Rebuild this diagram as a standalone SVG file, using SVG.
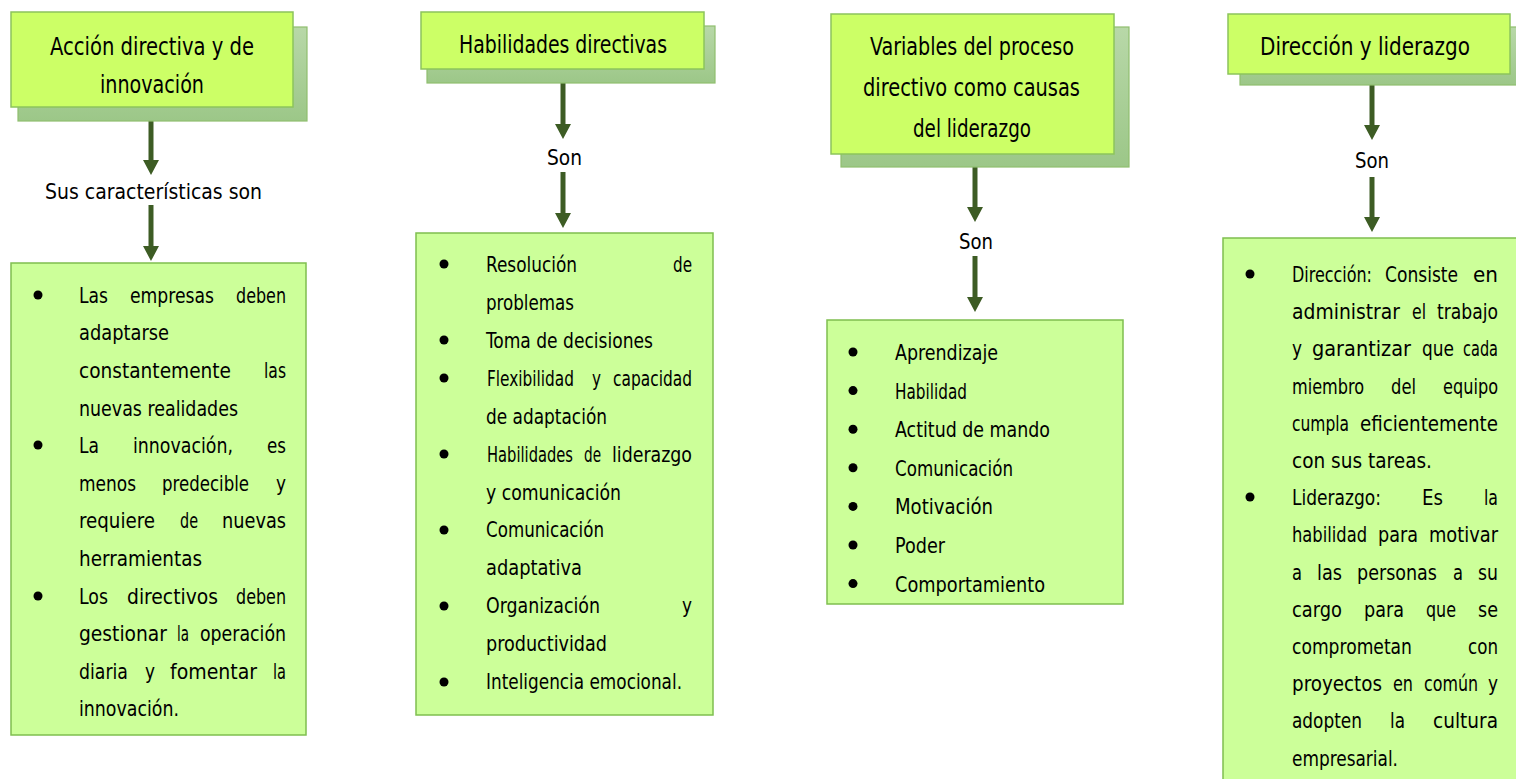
<svg xmlns="http://www.w3.org/2000/svg" width="1516" height="779" viewBox="0 0 1516 779">
<style>
text{font-family:"DejaVu Sans Condensed","Liberation Sans Narrow","Liberation Sans",sans-serif;font-stretch:condensed;fill:#000}
.h{font-size:25px}
.b{font-size:21px}
.l{font-size:22px}
.t{word-spacing:-5px}
.front{fill:#ccff66;stroke:#8cc45c;stroke-width:1.5}
.shadow{fill:url(#sg);stroke:#8fbf6e;stroke-width:1.2}
.body{fill:#ccff99;stroke:#7fbf4f;stroke-width:1.5}
.arr{stroke:#3d5c24;stroke-width:5;fill:none;marker-end:url(#ah)}
.dot{fill:#000}
</style>
<defs>
<linearGradient id="sg" x1="0" y1="0" x2="0" y2="1">
<stop offset="0" stop-color="#b8d8a8"/>
<stop offset="1" stop-color="#9cc788"/>
</linearGradient>
<marker id="ah" viewBox="0 0 15 16" refX="0" refY="8" markerWidth="15" markerHeight="16" orient="auto" markerUnits="userSpaceOnUse">
<path d="M0,0 L15,8 L0,16 Z" fill="#3d5c24"/>
</marker>
</defs>

<g id="connectors">
<path class="arr" d="M151,121 V160"/>
<path class="arr" d="M151,205 V246"/>
<path class="arr" d="M563,83 V124"/>
<path class="arr" d="M563,172 V213"/>
<path class="arr" d="M975,167 V207"/>
<path class="arr" d="M975,256 V297"/>
<path class="arr" d="M1372,85 V125"/>
<path class="arr" d="M1372,177 V217"/>
<text class="l" y="199"><tspan x="45" textLength="217" lengthAdjust="spacingAndGlyphs">Sus características son</tspan></text>
<text class="l" y="165"><tspan x="547" textLength="35" lengthAdjust="spacingAndGlyphs">Son</tspan></text>
<text class="l" y="249"><tspan x="959" textLength="34" lengthAdjust="spacingAndGlyphs">Son</tspan></text>
<text class="l" y="168"><tspan x="1355" textLength="34" lengthAdjust="spacingAndGlyphs">Son</tspan></text>
</g>

<g id="head1">
<rect class="shadow" x="18" y="27" width="289" height="94"/>
<rect class="front" x="11" y="12" width="282" height="95"/>
<text class="h" y="55"><tspan x="50" textLength="204" lengthAdjust="spacingAndGlyphs">Acción directiva y de</tspan></text>
<text class="h" y="93"><tspan x="100" textLength="104" lengthAdjust="spacingAndGlyphs">innovación</tspan></text>
</g>

<g id="body1">
<rect class="body" x="11" y="263" width="295" height="472"/>
<circle class="dot" cx="38" cy="295" r="4.5"/>
<circle class="dot" cx="38" cy="445" r="4.5"/>
<circle class="dot" cx="38" cy="596" r="4.5"/>
<text class="b t" y="302.7"><tspan x="79" textLength="29" lengthAdjust="spacingAndGlyphs">Las</tspan> <tspan x="130" textLength="84" lengthAdjust="spacingAndGlyphs">empresas</tspan> <tspan x="236" textLength="50" lengthAdjust="spacingAndGlyphs">deben</tspan></text>
<text class="b" y="340.3"><tspan x="79" textLength="90" lengthAdjust="spacingAndGlyphs">adaptarse</tspan></text>
<text class="b t" y="377.9"><tspan x="79" textLength="152" lengthAdjust="spacingAndGlyphs">constantemente</tspan> <tspan x="264" textLength="22" lengthAdjust="spacingAndGlyphs">las</tspan></text>
<text class="b" y="415.5"><tspan x="79" textLength="159" lengthAdjust="spacingAndGlyphs">nuevas realidades</tspan></text>
<text class="b t" y="453.1"><tspan x="79" textLength="20" lengthAdjust="spacingAndGlyphs">La</tspan> <tspan x="133" textLength="100" lengthAdjust="spacingAndGlyphs">innovación,</tspan> <tspan x="267" textLength="19" lengthAdjust="spacingAndGlyphs">es</tspan></text>
<text class="b t" y="490.7"><tspan x="79" textLength="57" lengthAdjust="spacingAndGlyphs">menos</tspan> <tspan x="162" textLength="87" lengthAdjust="spacingAndGlyphs">predecible</tspan> <tspan x="276" textLength="10" lengthAdjust="spacingAndGlyphs">y</tspan></text>
<text class="b t" y="528.3"><tspan x="79" textLength="76" lengthAdjust="spacingAndGlyphs">requiere</tspan> <tspan x="180" textLength="18" lengthAdjust="spacingAndGlyphs">de</tspan> <tspan x="222" textLength="64" lengthAdjust="spacingAndGlyphs">nuevas</tspan></text>
<text class="b" y="565.9"><tspan x="79" textLength="123" lengthAdjust="spacingAndGlyphs">herramientas</tspan></text>
<text class="b t" y="603.5"><tspan x="79" textLength="29" lengthAdjust="spacingAndGlyphs">Los</tspan> <tspan x="127" textLength="91" lengthAdjust="spacingAndGlyphs">directivos</tspan> <tspan x="236" textLength="50" lengthAdjust="spacingAndGlyphs">deben</tspan></text>
<text class="b t" y="641.1"><tspan x="79" textLength="88" lengthAdjust="spacingAndGlyphs">gestionar</tspan> <tspan x="177" textLength="12" lengthAdjust="spacingAndGlyphs">la</tspan> <tspan x="200" textLength="86" lengthAdjust="spacingAndGlyphs">operación</tspan></text>
<text class="b t" y="678.7"><tspan x="79" textLength="49" lengthAdjust="spacingAndGlyphs">diaria</tspan> <tspan x="145" textLength="10" lengthAdjust="spacingAndGlyphs">y</tspan> <tspan x="170" textLength="87" lengthAdjust="spacingAndGlyphs">fomentar</tspan> <tspan x="273" textLength="13" lengthAdjust="spacingAndGlyphs">la</tspan></text>
<text class="b" y="716.3"><tspan x="79" textLength="100" lengthAdjust="spacingAndGlyphs">innovación.</tspan></text>
</g>

<g id="head2">
<rect class="shadow" x="427" y="26" width="288" height="57"/>
<rect class="front" x="421" y="12" width="283" height="57"/>
<text class="h" y="53"><tspan x="459" textLength="208" lengthAdjust="spacingAndGlyphs">Habilidades directivas</tspan></text>
</g>

<g id="body2">
<rect class="body" x="416" y="233" width="297" height="482"/>
<circle class="dot" cx="444" cy="264" r="4.5"/>
<circle class="dot" cx="444" cy="340" r="4.5"/>
<circle class="dot" cx="444" cy="378" r="4.5"/>
<circle class="dot" cx="444" cy="454" r="4.5"/>
<circle class="dot" cx="444" cy="530" r="4.5"/>
<circle class="dot" cx="444" cy="606" r="4.5"/>
<circle class="dot" cx="444" cy="682" r="4.5"/>
<text class="b t" y="271.7"><tspan x="486" textLength="91" lengthAdjust="spacingAndGlyphs">Resolución</tspan> <tspan x="673" textLength="19" lengthAdjust="spacingAndGlyphs">de</tspan></text>
<text class="b" y="309.7"><tspan x="486" textLength="88" lengthAdjust="spacingAndGlyphs">problemas</tspan></text>
<text class="b" y="347.6"><tspan x="486" textLength="167" lengthAdjust="spacingAndGlyphs">Toma de decisiones</tspan></text>
<text class="b t" y="385.6"><tspan x="487" textLength="87" lengthAdjust="spacingAndGlyphs">Flexibilidad</tspan> <tspan x="592" textLength="9" lengthAdjust="spacingAndGlyphs">y</tspan> <tspan x="613" textLength="79" lengthAdjust="spacingAndGlyphs">capacidad</tspan></text>
<text class="b" y="423.5"><tspan x="486" textLength="121" lengthAdjust="spacingAndGlyphs">de adaptación</tspan></text>
<text class="b t" y="461.5"><tspan x="487" textLength="86" lengthAdjust="spacingAndGlyphs">Habilidades</tspan> <tspan x="584" textLength="17" lengthAdjust="spacingAndGlyphs">de</tspan> <tspan x="612" textLength="80" lengthAdjust="spacingAndGlyphs">liderazgo</tspan></text>
<text class="b" y="499.5"><tspan x="486" textLength="135" lengthAdjust="spacingAndGlyphs">y comunicación</tspan></text>
<text class="b" y="537.4"><tspan x="486" textLength="118" lengthAdjust="spacingAndGlyphs">Comunicación</tspan></text>
<text class="b" y="575.4"><tspan x="486" textLength="96" lengthAdjust="spacingAndGlyphs">adaptativa</tspan></text>
<text class="b t" y="613.3"><tspan x="486" textLength="114" lengthAdjust="spacingAndGlyphs">Organización</tspan> <tspan x="682" textLength="10" lengthAdjust="spacingAndGlyphs">y</tspan></text>
<text class="b" y="651.3"><tspan x="486" textLength="121" lengthAdjust="spacingAndGlyphs">productividad</tspan></text>
<text class="b" y="689.3"><tspan x="486" textLength="196" lengthAdjust="spacingAndGlyphs">Inteligencia emocional.</tspan></text>
</g>

<g id="head3">
<rect class="shadow" x="841" y="27" width="288" height="140"/>
<rect class="front" x="831" y="14" width="283" height="140"/>
<text class="h" y="55"><tspan x="870" textLength="204" lengthAdjust="spacingAndGlyphs">Variables del proceso</tspan></text>
<text class="h" y="96"><tspan x="863" textLength="217" lengthAdjust="spacingAndGlyphs">directivo como causas</tspan></text>
<text class="h" y="137"><tspan x="913" textLength="118" lengthAdjust="spacingAndGlyphs">del liderazgo</tspan></text>
</g>

<g id="body3">
<rect class="body" x="827" y="320" width="296" height="284"/>
<circle class="dot" cx="853" cy="352" r="4.5"/>
<circle class="dot" cx="853" cy="390.6" r="4.5"/>
<circle class="dot" cx="853" cy="429.2" r="4.5"/>
<circle class="dot" cx="853" cy="467.8" r="4.5"/>
<circle class="dot" cx="853" cy="506.4" r="4.5"/>
<circle class="dot" cx="853" cy="545" r="4.5"/>
<circle class="dot" cx="853" cy="583.6" r="4.5"/>
<text class="b" y="360"><tspan x="895" textLength="103" lengthAdjust="spacingAndGlyphs">Aprendizaje</tspan></text>
<text class="b" y="398.6"><tspan x="895" textLength="72" lengthAdjust="spacingAndGlyphs">Habilidad</tspan></text>
<text class="b" y="437.2"><tspan x="895" textLength="155" lengthAdjust="spacingAndGlyphs">Actitud de mando</tspan></text>
<text class="b" y="475.8"><tspan x="895" textLength="118" lengthAdjust="spacingAndGlyphs">Comunicación</tspan></text>
<text class="b" y="514.4"><tspan x="895" textLength="98" lengthAdjust="spacingAndGlyphs">Motivación</tspan></text>
<text class="b" y="553"><tspan x="895" textLength="50" lengthAdjust="spacingAndGlyphs">Poder</tspan></text>
<text class="b" y="591.6"><tspan x="895" textLength="150" lengthAdjust="spacingAndGlyphs">Comportamiento</tspan></text>
</g>

<g id="head4">
<rect class="shadow" x="1240" y="27" width="290" height="58"/>
<rect class="front" x="1228" y="14" width="282" height="60"/>
<text class="h" y="55"><tspan x="1260" textLength="210" lengthAdjust="spacingAndGlyphs">Dirección y liderazgo</tspan></text>
</g>

<g id="body4">
<rect class="body" x="1223" y="238" width="310" height="560"/>
<circle class="dot" cx="1250" cy="274" r="4.5"/>
<circle class="dot" cx="1250" cy="497" r="4.5"/>
<text class="b t" y="282"><tspan x="1292" textLength="80" lengthAdjust="spacingAndGlyphs">Dirección:</tspan> <tspan x="1385" textLength="73" lengthAdjust="spacingAndGlyphs">Consiste</tspan> <tspan x="1473" textLength="25" lengthAdjust="spacingAndGlyphs">en</tspan></text>
<text class="b t" y="319.2"><tspan x="1292" textLength="108" lengthAdjust="spacingAndGlyphs">administrar</tspan> <tspan x="1412" textLength="14" lengthAdjust="spacingAndGlyphs">el</tspan> <tspan x="1437" textLength="61" lengthAdjust="spacingAndGlyphs">trabajo</tspan></text>
<text class="b t" y="356.4"><tspan x="1292" textLength="10" lengthAdjust="spacingAndGlyphs">y</tspan> <tspan x="1312" textLength="99" lengthAdjust="spacingAndGlyphs">garantizar</tspan> <tspan x="1422" textLength="32" lengthAdjust="spacingAndGlyphs">que</tspan> <tspan x="1463" textLength="35" lengthAdjust="spacingAndGlyphs">cada</tspan></text>
<text class="b t" y="393.6"><tspan x="1292" textLength="72" lengthAdjust="spacingAndGlyphs">miembro</tspan> <tspan x="1391" textLength="25" lengthAdjust="spacingAndGlyphs">del</tspan> <tspan x="1443" textLength="55" lengthAdjust="spacingAndGlyphs">equipo</tspan></text>
<text class="b t" y="430.8"><tspan x="1292" textLength="57" lengthAdjust="spacingAndGlyphs">cumpla</tspan> <tspan x="1360" textLength="138" lengthAdjust="spacingAndGlyphs">eficientemente</tspan></text>
<text class="b" y="468"><tspan x="1292" textLength="140" lengthAdjust="spacingAndGlyphs">con sus tareas.</tspan></text>
<text class="b t" y="505.2"><tspan x="1292" textLength="89" lengthAdjust="spacingAndGlyphs">Liderazgo:</tspan> <tspan x="1422" textLength="21" lengthAdjust="spacingAndGlyphs">Es</tspan> <tspan x="1484" textLength="14" lengthAdjust="spacingAndGlyphs">la</tspan></text>
<text class="b t" y="542.4"><tspan x="1292" textLength="75" lengthAdjust="spacingAndGlyphs">habilidad</tspan> <tspan x="1378" textLength="40" lengthAdjust="spacingAndGlyphs">para</tspan> <tspan x="1429" textLength="69" lengthAdjust="spacingAndGlyphs">motivar</tspan></text>
<text class="b t" y="579.6"><tspan x="1292" textLength="10" lengthAdjust="spacingAndGlyphs">a</tspan> <tspan x="1317" textLength="25" lengthAdjust="spacingAndGlyphs">las</tspan> <tspan x="1357" textLength="80" lengthAdjust="spacingAndGlyphs">personas</tspan> <tspan x="1453" textLength="10" lengthAdjust="spacingAndGlyphs">a</tspan> <tspan x="1478" textLength="20" lengthAdjust="spacingAndGlyphs">su</tspan></text>
<text class="b t" y="616.8"><tspan x="1292" textLength="50" lengthAdjust="spacingAndGlyphs">cargo</tspan> <tspan x="1364" textLength="40" lengthAdjust="spacingAndGlyphs">para</tspan> <tspan x="1426" textLength="30" lengthAdjust="spacingAndGlyphs">que</tspan> <tspan x="1478" textLength="20" lengthAdjust="spacingAndGlyphs">se</tspan></text>
<text class="b t" y="654"><tspan x="1292" textLength="120" lengthAdjust="spacingAndGlyphs">comprometan</tspan> <tspan x="1468" textLength="30" lengthAdjust="spacingAndGlyphs">con</tspan></text>
<text class="b t" y="691.2"><tspan x="1292" textLength="90" lengthAdjust="spacingAndGlyphs">proyectos</tspan> <tspan x="1393" textLength="20" lengthAdjust="spacingAndGlyphs">en</tspan> <tspan x="1424" textLength="54" lengthAdjust="spacingAndGlyphs">común</tspan> <tspan x="1488" textLength="10" lengthAdjust="spacingAndGlyphs">y</tspan></text>
<text class="b t" y="728.4"><tspan x="1292" textLength="70" lengthAdjust="spacingAndGlyphs">adopten</tspan> <tspan x="1390" textLength="15" lengthAdjust="spacingAndGlyphs">la</tspan> <tspan x="1433" textLength="65" lengthAdjust="spacingAndGlyphs">cultura</tspan></text>
<text class="b" y="765.6"><tspan x="1292" textLength="106" lengthAdjust="spacingAndGlyphs">empresarial.</tspan></text>
</g>
</svg>
